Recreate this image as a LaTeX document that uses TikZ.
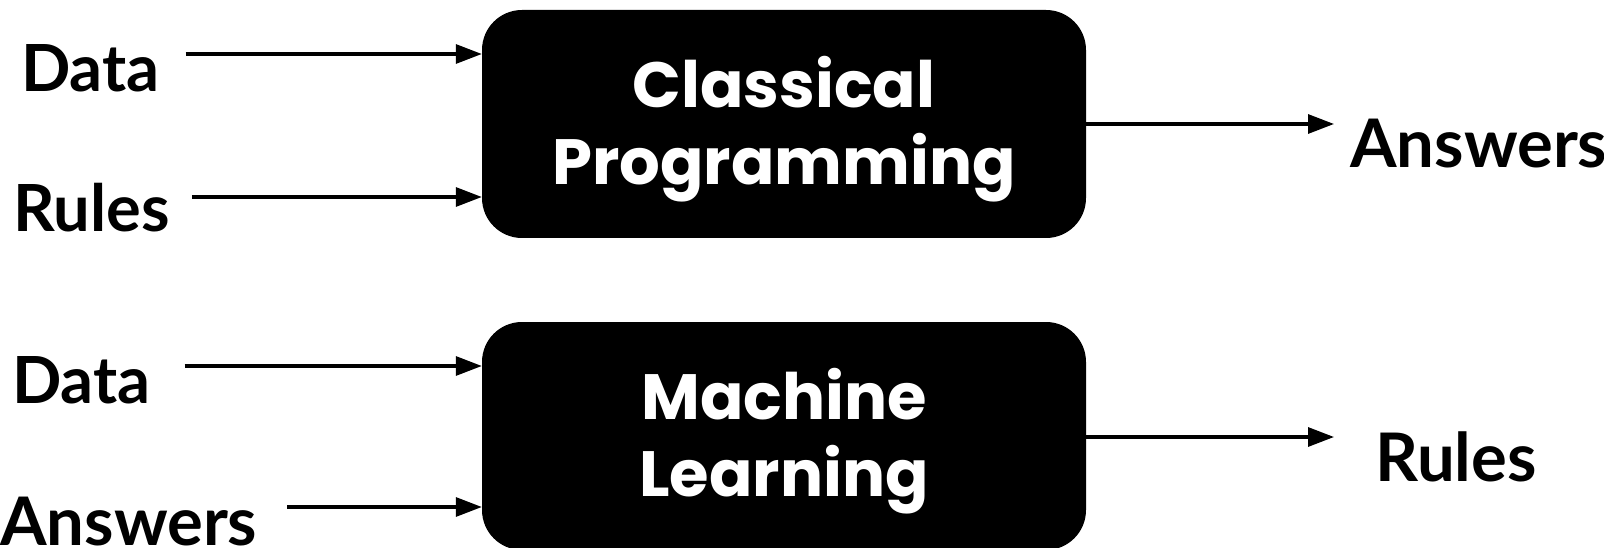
\documentclass[tikz,border=0pt]{standalone}
\usepackage{fontspec}
\usetikzlibrary{arrows.meta,calc}
\newfontfamily\boxfont{Poppins}
\newfontfamily\labfont{Lato}
\tikzset{
  procbox/.style={fill=black, rounded corners=40pt, minimum width=604pt,
    minimum height=228pt, inner sep=0pt},
  boxtitle/.style={text=white, align=center, inner sep=0pt,
    font=\boxfont\bfseries\fontsize{64}{77}\selectfont},
  inlabel/.style={anchor=base west, inner sep=0pt,
    font=\labfont\bfseries\fontsize{65}{72}\selectfont},
  outlabel/.style={anchor=base west, inner sep=0pt,
    font=\labfont\bfseries\fontsize{67}{74}\selectfont},
  arr/.style={line width=3.2pt, -{Triangle[length=26pt,width=19pt]}}
}
\begin{document}
\begin{tikzpicture}[x=1pt,y=-1pt]
\useasboundingbox (0,0) rectangle (1604,548);

% processing boxes and their titles
\node[procbox] (cp) at (784,124) {};
\node[procbox] (ml) at (784,436) {};
\node[boxtitle] (cptitle) at ($(cp.center)+(0,5)$) {Classical\\Programming};
\node[boxtitle] (mltitle) at ($(ml.center)+(0,5)$) {Machine\\Learning};

% input and output labels
\node[inlabel] (cpdata)  at (21,92)   {Data};
\node[inlabel] (cprules) at (13,232)  {Rules};
\node[inlabel] (mldata)  at (12,403)  {Data};
\node[inlabel, font=\labfont\bfseries\fontsize{67}{74}\selectfont]
  (mlans) at (0,545) {Answers};
\node[outlabel] (cpans)  at (1350,168) {Answers};
\node[outlabel] (mlrules) at (1375,481) {Rules};

% arrow end points on the box edges
\coordinate (cpin1) at ($(cp.west)+(0,-70)$);
\coordinate (cpin2) at ($(cp.west)+(0,73)$);
\coordinate (mlin1) at ($(ml.west)+(0,-70)$);
\coordinate (mlin2) at ($(ml.west)+(0,71)$);
\coordinate (cpout) at ($(cp.east)+(0,0)$);
\coordinate (mlout) at ($(ml.east)+(0,1)$);

% connectors
\draw[arr] ($(cpdata.east |- cpin1)+(26,0)$) -- (cpin1);
\draw[arr] ($(cprules.east |- cpin2)+(22,0)$) -- (cpin2);
\draw[arr] ($(mldata.east |- mlin1)+(34,0)$) -- (mlin1);
\draw[arr] ($(mlans.east |- mlin2)+(30,0)$) -- (mlin2);
\draw[arr] (cpout) -- ($(cpans.west |- cpout)+(-16,0)$);
\draw[arr] (mlout) -- ($(mlrules.west |- mlout)+(-41,0)$);
\end{tikzpicture}
\end{document}
